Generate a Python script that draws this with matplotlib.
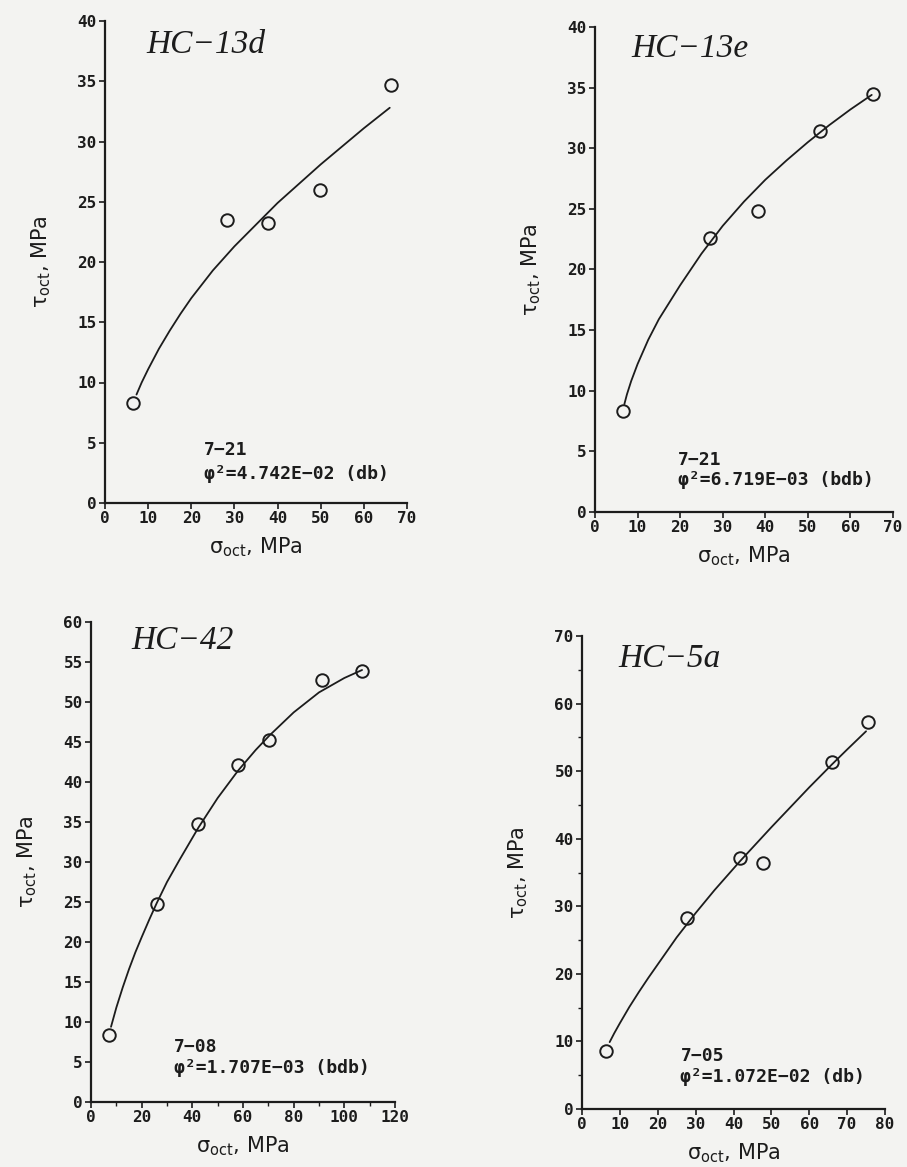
import matplotlib
matplotlib.use("Agg")
import matplotlib.pyplot as plt
from matplotlib.ticker import MultipleLocator

# ---------------- data ----------------
titles = ["HC\u221213d", "HC\u221213e", "HC\u221242", "HC\u22125a"]
codes = ["7\u221221", "7\u221221", "7\u221208", "7\u221205"]
fits = ["\u03c6\u00b2=4.742E\u221202 (db)", "\u03c6\u00b2=6.719E\u221203 (bdb)",
        "\u03c6\u00b2=1.707E\u221203 (bdb)", "\u03c6\u00b2=1.072E\u221202 (db)"]

# HC-13d
pts1_x = [6.5, 28.3, 37.7, 49.8, 66.3]
pts1_y = [8.3, 23.5, 23.2, 26.0, 34.7]
crv1_x = [7.3, 8.5, 10, 12.5, 15, 17.5, 20, 25, 30, 35, 40, 45, 50, 55, 60, 66]
crv1_y = [9.0, 10.0, 11.1, 12.8, 14.3, 15.7, 17.0, 19.3, 21.3, 23.1, 24.9, 26.5, 28.1, 29.6, 31.1, 32.8]

# HC-13e
pts2_x = [6.5, 26.9, 38.2, 52.9, 65.2]
pts2_y = [8.3, 22.6, 24.8, 31.4, 34.5]
crv2_x = [6.9, 7.5, 8.5, 10, 12.5, 15, 17.5, 20, 25, 30, 35, 40, 45, 50, 55, 60, 65]
crv2_y = [8.9, 9.7, 10.8, 12.2, 14.2, 15.9, 17.3, 18.7, 21.3, 23.6, 25.6, 27.4, 29.0, 30.5, 31.9, 33.2, 34.4]

# HC-42
pts3_x = [7.0, 26.0, 42.4, 58.2, 70.4, 91.0, 107.0]
pts3_y = [8.4, 24.7, 34.8, 42.1, 45.3, 52.8, 53.9]
crv3_x = [7.9, 10, 12.5, 15, 17.5, 20, 23, 26, 30, 35, 42.4, 50, 58, 65, 70.4, 80, 90, 100, 107]
crv3_y = [9.4, 11.8, 14.3, 16.6, 18.7, 20.6, 22.8, 24.9, 27.5, 30.3, 34.3, 38.0, 41.4, 44.0, 45.8, 48.7, 51.2, 53.0, 54.0]

# HC-5a
pts4_x = [6.3, 27.7, 41.6, 47.9, 66.0, 75.6]
pts4_y = [8.6, 28.2, 37.2, 36.4, 51.3, 57.2]
crv4_x = [7.3, 8.5, 10, 12.5, 15, 17.5, 20, 25, 30, 35, 41.6, 50, 60, 66, 70, 75]
crv4_y = [9.9, 11.2, 12.7, 15.1, 17.3, 19.4, 21.4, 25.4, 29.0, 32.4, 36.6, 41.7, 47.6, 51.0, 53.2, 55.9]

xlims = [70, 70, 120, 80]
ylims = [40, 40, 60, 70]
xmajor = [10, 10, 20, 10]
xminor = [None, None, 10, None]
ymajor = [5, 5, 5, 10]
yminor = [None, None, None, 5]

title_pos = [(9.5, 38.0), (8.5, 38.2), (15.8, 57.6), (9.7, 66.7)]
code_pos = [(23.0, 4.4), (19.5, 4.3), (32.9, 6.9), (26.0, 7.8)]
fit_pos = [(23.0, 2.4), (19.5, 2.6), (32.9, 4.3), (26.0, 4.8)]

# axes rectangles in figure pixels (left, top, right, bottom) of a 907x1167 image
rects_px = [(105, 21, 407, 503), (595, 27, 893, 512), (91, 622, 395, 1102), (582, 636, 885, 1109)]

points = [(pts1_x, pts1_y), (pts2_x, pts2_y), (pts3_x, pts3_y), (pts4_x, pts4_y)]
curves = [(crv1_x, crv1_y), (crv2_x, crv2_y), (crv3_x, crv3_y), (crv4_x, crv4_y)]

# ---------------- drawing ----------------
W, H = 907, 1167
bg = "#f3f3f1"
ink = "#1c1c1c"
fig = plt.figure(figsize=(W / 100, H / 100), dpi=100, facecolor=bg)

mono = "DejaVu Sans Mono"

for i in range(4):
    l, t, r, b = rects_px[i]
    ax = fig.add_axes([l / W, 1 - b / H, (r - l) / W, (b - t) / H])
    ax.set_facecolor("none")
    ax.set_xlim(0, xlims[i])
    ax.set_ylim(0, ylims[i])
    for s in ["top", "right"]:
        ax.spines[s].set_visible(False)
    for s in ["left", "bottom"]:
        ax.spines[s].set_linewidth(1.6)
        ax.spines[s].set_color(ink)

    ax.xaxis.set_major_locator(MultipleLocator(xmajor[i]))
    ax.yaxis.set_major_locator(MultipleLocator(ymajor[i]))
    if xminor[i]:
        ax.xaxis.set_minor_locator(MultipleLocator(xminor[i]))
    if yminor[i]:
        ax.yaxis.set_minor_locator(MultipleLocator(yminor[i]))
    ax.tick_params(which="major", direction="out", length=4, width=1.2, color=ink,
                   labelsize=11.5, labelcolor=ink, pad=2)
    ax.tick_params(which="minor", direction="out", length=3, width=1.0, color=ink)
    for lab in ax.get_xticklabels() + ax.get_yticklabels():
        lab.set_family(mono)
        lab.set_fontweight("bold")

    cx, cy = curves[i]
    ax.plot(cx, cy, color=ink, lw=1.3, solid_capstyle="round", solid_joinstyle="round", zorder=2)
    px, py = points[i]
    ax.plot(px, py, linestyle="none", marker="o", markersize=9, markerfacecolor="none",
            markeredgecolor=ink, markeredgewidth=1.4, zorder=3, clip_on=False)

    ax.text(title_pos[i][0], title_pos[i][1], titles[i], family="Liberation Serif",
            style="italic", fontsize=24, color=ink, ha="left", va="center")
    ax.text(code_pos[i][0], code_pos[i][1], codes[i], family=mono, fontsize=13,
            fontweight="bold", color=ink, ha="left", va="center")
    ax.text(fit_pos[i][0], fit_pos[i][1], fits[i], family=mono, fontsize=13,
            fontweight="bold", color=ink, ha="left", va="center")

    ax.set_xlabel("\u03c3$_{\\mathrm{oct}}$, MPa", fontsize=15, color=ink)
    ax.set_ylabel("\u03c4$_{\\mathrm{oct}}$, MPa", fontsize=15, color=ink)
    ax.xaxis.label.set_va("center")
    ax.yaxis.label.set_va("center")
    hpx = b - t
    wpx = r - l
    ax.xaxis.set_label_coords(0.5, -44 / hpx)
    ax.yaxis.set_label_coords(-64 / wpx, 0.5)

fig.savefig("out.png", dpi=100, facecolor=bg)
